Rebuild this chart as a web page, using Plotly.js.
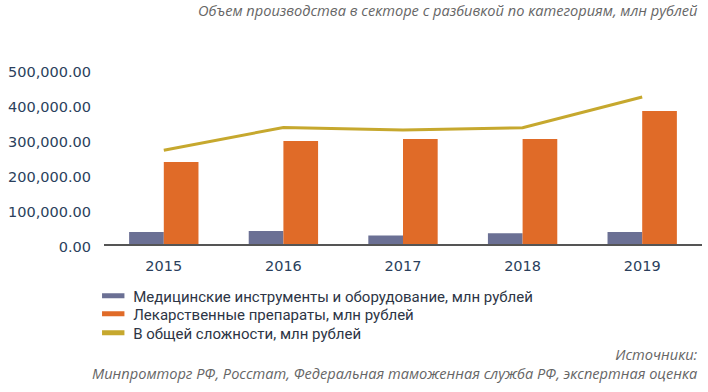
<!DOCTYPE html>
<html><head><meta charset="utf-8">
<script src="https://cdn.plot.ly/plotly-3.0.1.min.js"></script>
<style>html,body{margin:0;padding:0;background:#fff}#chart{width:708px;height:392px}</style>
</head><body><div id="chart"></div>
<script>
const years = ['2015','2016','2017','2018','2019'];
const instruments = [34000, 37000, 24000, 31000, 34000];
const drugs = [234000, 294000, 300000, 300000, 380000];
const total = [268000, 333000, 326000, 332000, 420000];
const yTicks = [0, 100000, 200000, 300000, 400000, 500000];
const names = ['Медицинские инструменты и оборудование, млн рублей','Лекарственные препараты, млн рублей','В общей сложности, млн рублей'];
const colors = ['#6b7094','#e06b28','#c6a82e'];

const traces = [
  {type:'bar', x:years, y:instruments, marker:{color:colors[0]}, showlegend:false, hoverinfo:'skip'},
  {type:'bar', x:years, y:drugs, marker:{color:colors[1]}, showlegend:false, hoverinfo:'skip'},
  {type:'scatter', mode:'lines', x:years, y:total, line:{color:colors[2], width:3}, showlegend:false, hoverinfo:'skip'}
];
const legendIds = ['legend','legend2','legend3'];
names.forEach((n,i)=>traces.push({type:'scatter', mode:'markers', x:[null], y:[null], name:n, legend:legendIds[i],
  marker:{symbol:'line-ew-open', size:16, color:colors[i], line:{color:colors[i], width:6}}}));

const legendRowY = [-0.297, -0.4, -0.509];
const legendBase = {x:-0.018, xanchor:'left', yanchor:'middle', orientation:'v',
  font:{family:'Roboto, sans-serif', size:15, color:'#2d3545'}, itemwidth:30, bgcolor:'rgba(0,0,0,0)'};

const noteFont = {family:'Open Sans, sans-serif', size:14.6, color:'#666', style:'italic'};

const layout = {
  width:708, height:392,
  margin:{l:104, r:6, t:69, b:148},
  paper_bgcolor:'#fff', plot_bgcolor:'#fff',
  barmode:'group', bargap:0.42, bargroupgap:0,
  font:{family:'DejaVu Sans, sans-serif', color:'#2b3f5c'},
  xaxis:{type:'category', showline:true, linecolor:'#555', linewidth:1.5, ticks:'', showgrid:false,
    tickfont:{family:'DejaVu Sans, sans-serif', size:14.5, color:'#2b3f5c'}, ticklabelstandoff:8},
  yaxis:{range:[0,500000], tickvals:yTicks, tickformat:',.2f', showgrid:false, zeroline:false, showline:false,
    tickfont:{family:'DejaVu Sans, sans-serif', size:14.5, color:'#2b3f5c'}, ticklabelstandoff:12, ticklabelshift:3},
  legend:Object.assign({}, legendBase, {y:legendRowY[0]}),
  legend2:Object.assign({}, legendBase, {y:legendRowY[1]}),
  legend3:Object.assign({}, legendBase, {y:legendRowY[2]}),
  annotations:[
    {text:'Объем производства в секторе с разбивкой по категориям, млн рублей', xref:'paper', yref:'paper',
     x:0.9967, y:1.337, xanchor:'right', yanchor:'middle', showarrow:false, font:noteFont},
    {text:'Источники:<br>Минпромторг РФ, Росстат, Федеральная таможенная служба РФ, экспертная оценка', xref:'paper', yref:'paper',
     x:0.9967, y:-0.68, xanchor:'right', yanchor:'middle', align:'right', showarrow:false, font:noteFont}
  ]
};
Plotly.newPlot('chart', traces, layout, {staticPlot:true, displayModeBar:false});
</script></body></html>
